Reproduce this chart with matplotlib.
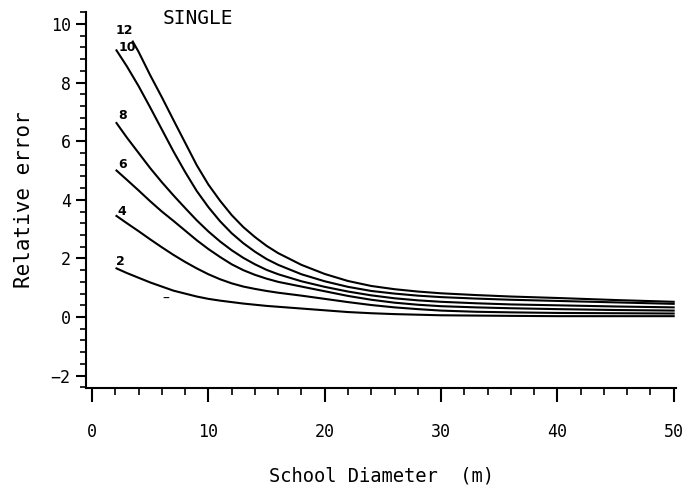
import matplotlib.pyplot as plt
from matplotlib.ticker import MultipleLocator

# school diameter (m)
diam = [2.1, 3, 4, 5, 6, 7, 8, 9, 10, 11, 12, 13, 14, 15, 16, 18, 20,
        22, 24, 26, 28, 30, 33, 36, 40, 45, 50]
diam_12 = [3.5, 4, 5, 6, 7, 8, 9, 10, 11, 12, 13, 14, 15, 16, 18, 20,
           22, 24, 26, 28, 30, 33, 36, 40, 45, 50]

err_2 = [1.66, 1.50, 1.34, 1.18, 1.04, 0.90, 0.80, 0.70, 0.62, 0.56, 0.51, 0.46, 0.42,
         0.38, 0.35, 0.29, 0.23, 0.17, 0.13, 0.10, 0.08, 0.06, 0.05, 0.04, 0.03, 0.03, 0.03]
err_4 = [3.45, 3.20, 2.93, 2.65, 2.38, 2.12, 1.88, 1.66, 1.46, 1.29, 1.15, 1.04, 0.96,
         0.89, 0.83, 0.73, 0.62, 0.51, 0.41, 0.33, 0.27, 0.22, 0.18, 0.16, 0.14, 0.13, 0.12]
err_6 = [5.00, 4.68, 4.32, 3.95, 3.60, 3.28, 2.95, 2.62, 2.32, 2.05, 1.80, 1.60, 1.44,
         1.31, 1.20, 1.04, 0.88, 0.72, 0.59, 0.49, 0.42, 0.37, 0.33, 0.30, 0.27, 0.24, 0.22]
err_8 = [6.62, 6.12, 5.60, 5.08, 4.60, 4.15, 3.72, 3.30, 2.92, 2.58, 2.28, 2.02, 1.80,
         1.61, 1.46, 1.22, 1.03, 0.87, 0.74, 0.64, 0.57, 0.52, 0.47, 0.43, 0.40, 0.36, 0.33]
err_10 = [9.10, 8.55, 7.88, 7.15, 6.40, 5.65, 4.95, 4.30, 3.75, 3.27, 2.86, 2.52, 2.23,
          1.98, 1.78, 1.46, 1.22, 1.03, 0.89, 0.80, 0.73, 0.68, 0.63, 0.59, 0.55, 0.50, 0.45]
err_12 = [9.40, 9.05, 8.25, 7.50, 6.72, 5.95, 5.18, 4.52, 3.97, 3.48, 3.07, 2.73, 2.43,
          2.18, 1.78, 1.47, 1.23, 1.06, 0.95, 0.87, 0.81, 0.75, 0.70, 0.65, 0.58, 0.52]

curve_labels = ["2", "4", "6", "8", "10", "12"]
label_x = [2.4, 2.6, 2.6, 2.6, 3.0, 2.8]
label_y = [1.90, 3.60, 5.20, 6.88, 9.20, 9.78]

mono = "DejaVu Sans Mono"

fig = plt.figure(figsize=(6.97, 4.88), dpi=100)
ax = fig.add_axes([0.1234, 0.205, 0.8465, 0.7705])

series = [(diam, err_2), (diam, err_4), (diam, err_6),
          (diam, err_8), (diam, err_10), (diam_12, err_12)]
for (xs, ys), lab, lx, ly in zip(series, curve_labels, label_x, label_y):
    ax.plot(xs, ys, color="black", lw=1.5)
    ax.text(lx, ly, lab, fontsize=9, fontweight="bold", ha="center",
            va="center", family="DejaVu Sans")

# stray mark in the original scan
ax.text(6.3, 0.62, "\u2013", fontsize=10, ha="center", va="center", family="DejaVu Sans")

ax.text(9.1, 10.17, "SINGLE", fontsize=14, ha="center", va="center", family=mono)

ax.set_xlim(-0.52, 50.2)
ax.set_ylim(-2.42, 10.41)

for side in ["top", "right"]:
    ax.spines[side].set_visible(False)
for side in ["left", "bottom"]:
    ax.spines[side].set_linewidth(1.5)

ax.xaxis.set_major_locator(MultipleLocator(10))
ax.xaxis.set_minor_locator(MultipleLocator(2))
ax.yaxis.set_major_locator(MultipleLocator(2))
ax.yaxis.set_minor_locator(MultipleLocator(0.4))

ax.tick_params(axis="x", which="major", length=10, width=1.5, pad=15, labelsize=12)
ax.tick_params(axis="x", which="minor", length=5, width=1.2)
ax.tick_params(axis="y", which="major", length=7, width=1.5, pad=4, labelsize=12)
ax.tick_params(axis="y", which="minor", length=4, width=1.2)
for t in ax.get_xticklabels() + ax.get_yticklabels():
    t.set_family(mono)

ax.set_xlabel("School Diameter  (m)", fontsize=13.5, family=mono)
ax.xaxis.set_label_coords(0.5, -0.235)
ax.xaxis.label.set_va("center")
ax.set_ylabel("Relative error", fontsize=15, family=mono)
ax.yaxis.set_label_coords(-0.105, 0.5)
ax.yaxis.label.set_va("center")

fig.savefig("out.png", dpi=100)
